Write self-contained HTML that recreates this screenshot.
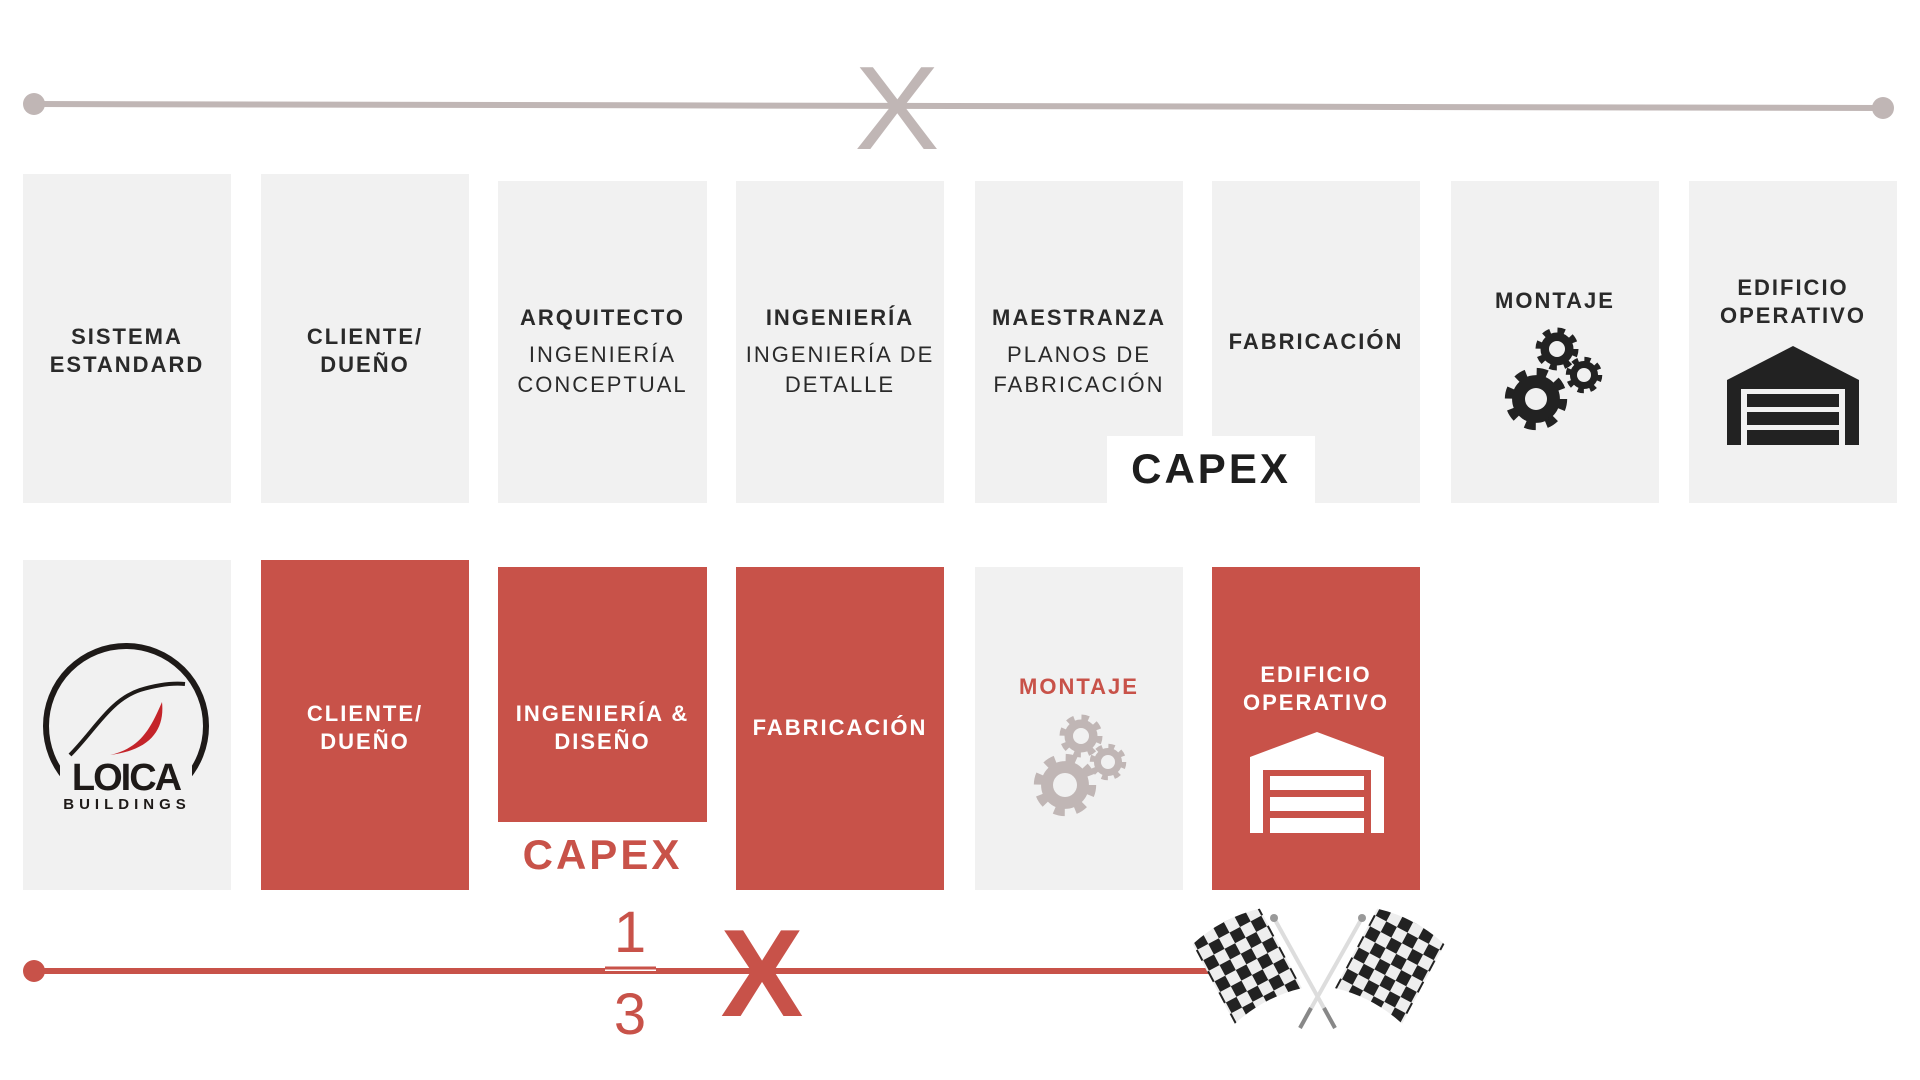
<!DOCTYPE html>
<html><head><meta charset="utf-8">
<style>
*{margin:0;padding:0;box-sizing:border-box}
body{width:1920px;height:1080px;background:#fff;position:relative;overflow:hidden;font-family:"Liberation Sans",sans-serif}
.b{position:absolute;background:#f1f1f1}
.r{background:#c85249}
.t{position:absolute;text-align:center;font-weight:bold;font-size:22px;letter-spacing:2px;color:#2a2a2a;line-height:28px;white-space:nowrap}
.n{font-weight:normal}
.w{color:#fff}
svg{position:absolute;left:0;top:0}
</style></head><body>
<div class="b" style="left:23px;top:174px;width:208px;height:329px"></div>
<div class="b" style="left:261px;top:174px;width:208px;height:329px"></div>
<div class="b" style="left:498px;top:181px;width:209px;height:322px"></div>
<div class="b" style="left:736px;top:181px;width:208px;height:322px"></div>
<div class="b" style="left:975px;top:181px;width:208px;height:322px"></div>
<div class="b" style="left:1212px;top:181px;width:208px;height:322px"></div>
<div class="b" style="left:1451px;top:181px;width:208px;height:322px"></div>
<div class="b" style="left:1689px;top:181px;width:208px;height:322px"></div>
<div style="position:absolute;left:1107px;top:436px;width:208px;height:67px;background:#fff"></div>

<div class="t" style="left:23px;width:208px;top:323px">SISTEMA<br>ESTANDARD</div>
<div class="t" style="left:261px;width:208px;top:323px">CLIENTE/<br>DUEÑO</div>
<div class="t" style="left:498px;width:209px;top:304px">ARQUITECTO</div>
<div class="t n" style="left:498px;width:209px;top:340px;line-height:30px">INGENIERÍA<br>CONCEPTUAL</div>
<div class="t" style="left:736px;width:208px;top:304px">INGENIERÍA</div>
<div class="t n" style="left:736px;width:208px;top:340px;line-height:30px">INGENIERÍA DE<br>DETALLE</div>
<div class="t" style="left:975px;width:208px;top:304px">MAESTRANZA</div>
<div class="t n" style="left:975px;width:208px;top:340px;line-height:30px">PLANOS DE<br>FABRICACIÓN</div>
<div class="t" style="left:1212px;width:208px;top:328px">FABRICACIÓN</div>
<div class="t" style="left:1107px;width:208px;top:446px;font-size:42px;line-height:46px;letter-spacing:3px;color:#1e1e1e">CAPEX</div>
<div class="t" style="left:1451px;width:208px;top:287px">MONTAJE</div>
<div class="t" style="left:1689px;width:208px;top:274px">EDIFICIO<br>OPERATIVO</div>

<div class="b" style="left:23px;top:560px;width:208px;height:330px"></div>
<div class="b r" style="left:261px;top:560px;width:208px;height:330px"></div>
<div class="b r" style="left:498px;top:567px;width:209px;height:255px"></div>
<div class="b r" style="left:736px;top:567px;width:208px;height:323px"></div>
<div class="b" style="left:975px;top:567px;width:208px;height:323px"></div>
<div class="b r" style="left:1212px;top:567px;width:208px;height:323px"></div>

<div class="t w" style="left:261px;width:208px;top:700px">CLIENTE/<br>DUEÑO</div>
<div class="t w" style="left:498px;width:209px;top:700px">INGENIERÍA &amp;<br>DISEÑO</div>
<div class="t" style="left:498px;width:209px;top:832px;font-size:42px;line-height:46px;letter-spacing:3px;color:#c85249">CAPEX</div>
<div class="t w" style="left:736px;width:208px;top:714px">FABRICACIÓN</div>
<div class="t" style="left:975px;width:208px;top:673px;color:#c85249">MONTAJE</div>
<div class="t w" style="left:1212px;width:208px;top:661px">EDIFICIO<br>OPERATIVO</div>

<svg width="1920" height="1080" viewBox="0 0 1920 1080">
<defs>
<g id="gear">
 <circle r="17" fill="none" stroke-width="9" stroke-dasharray="6.7 6.7"/>
 <circle r="16"/>
</g>
<pattern id="chk" width="24" height="24" patternUnits="userSpaceOnUse">
 <rect width="24" height="24" fill="#eee"/>
 <rect width="12" height="12" fill="#222"/>
 <rect x="12" y="12" width="12" height="12" fill="#222"/>
</pattern>
</defs>
<line x1="34" y1="104" x2="1883" y2="108" stroke="#c0b6b5" stroke-width="6"/>
<circle cx="34" cy="104" r="11" fill="#c0b6b5"/>
<circle cx="1883" cy="108" r="11" fill="#c0b6b5"/>
<text x="897" y="152" font-family="Liberation Sans" font-size="128" fill="#c0b6b5" text-anchor="middle" transform="translate(897 108) scale(1 0.93) translate(-897 -108)">X</text>

<line x1="34" y1="971" x2="1230" y2="971" stroke="#c85249" stroke-width="6"/>
<circle cx="34" cy="971" r="11" fill="#c85249"/>
<text x="762" y="1016" font-family="Liberation Sans" font-size="124" font-weight="bold" fill="#c85249" text-anchor="middle">X</text>
<rect x="605" y="966" width="51" height="5" fill="#fff"/>
<line x1="605" y1="968" x2="656" y2="968" stroke="#c85249" stroke-width="3"/>
<text x="630" y="952" font-family="Liberation Sans" font-size="58" fill="#c85249" text-anchor="middle">1</text>
<text x="630" y="1034" font-family="Liberation Sans" font-size="58" fill="#c85249" text-anchor="middle">3</text>

<g fill="#222" stroke="#222">
 <use href="#gear" transform="translate(1536,399) scale(1.45)"/>
 <use href="#gear" transform="translate(1557,349) scale(1)"/>
 <use href="#gear" transform="translate(1584,375) scale(0.85)"/>
</g>
<circle cx="1536" cy="399" r="11" fill="#f1f1f1"/>
<circle cx="1557" cy="349" r="8" fill="#f1f1f1"/>
<circle cx="1584" cy="375" r="7" fill="#f1f1f1"/>
<g fill="#c0b6b5" stroke="#c0b6b5">
 <use href="#gear" transform="translate(1065,785) scale(1.45)"/>
 <use href="#gear" transform="translate(1081,736) scale(1)"/>
 <use href="#gear" transform="translate(1108,762) scale(0.85)"/>
</g>
<circle cx="1065" cy="785" r="12" fill="#f1f1f1"/>
<circle cx="1081" cy="736" r="8" fill="#f1f1f1"/>
<circle cx="1108" cy="762" r="7" fill="#f1f1f1"/>

<polygon points="1727,380 1793,346 1859,380 1859,445 1727,445" fill="#222"/>
<rect x="1741" y="389" width="104" height="56" fill="#f1f1f1"/>
<rect x="1747" y="394" width="92" height="13" fill="#222"/>
<rect x="1747" y="412" width="92" height="13" fill="#222"/>
<rect x="1747" y="430" width="92" height="15" fill="#222"/>
<polygon points="1250,757 1317,732 1384,757 1384,833 1250,833" fill="#fff"/>
<rect x="1263" y="770" width="108" height="63" fill="#c85249"/>
<rect x="1270" y="776" width="94" height="14" fill="#fff"/>
<rect x="1270" y="797" width="94" height="14" fill="#fff"/>
<rect x="1270" y="818" width="94" height="15" fill="#fff"/>

<circle cx="126" cy="726" r="80" fill="none" stroke="#1e1a18" stroke-width="6"/>
<rect x="60" y="762" width="132" height="50" fill="#f1f1f1"/>
<path d="M70 755 C95 730 110 700 140 690 C160 684 175 683 185 684" fill="none" stroke="#1e1a18" stroke-width="4"/>
<path d="M162 702 C165 730 150 750 110 755 C140 748 150 730 162 702Z" fill="#c4242a"/>
<text x="126" y="790" font-family="Liberation Sans" font-weight="bold" font-size="38" fill="#1e1a18" text-anchor="middle" letter-spacing="-2">LOICA</text>
<text x="127" y="809" font-family="Liberation Sans" font-weight="bold" font-size="15" fill="#1e1a18" text-anchor="middle" letter-spacing="5">BUILDINGS</text>

<!-- flags -->
<g transform="translate(1252,975) rotate(-28)">
 <path d="M-38 -55 Q0 -65 38 -55 L38 35 Q0 25 -38 35Z" fill="url(#chk)"/>
</g>
<g transform="translate(1385,975) rotate(28)">
 <path d="M-38 -55 Q0 -65 38 -55 L38 35 Q0 25 -38 35Z" fill="url(#chk)"/>
</g>
<line x1="1274" y1="918" x2="1335" y2="1028" stroke="#ddd" stroke-width="4"/>
<line x1="1362" y1="918" x2="1300" y2="1028" stroke="#ddd" stroke-width="4"/>
<line x1="1324" y1="1008" x2="1335" y2="1028" stroke="#888" stroke-width="4"/>
<line x1="1311" y1="1008" x2="1300" y2="1028" stroke="#888" stroke-width="4"/>
<circle cx="1274" cy="918" r="4" fill="#999"/>
<circle cx="1362" cy="918" r="4" fill="#999"/>
</svg>
</body></html>
